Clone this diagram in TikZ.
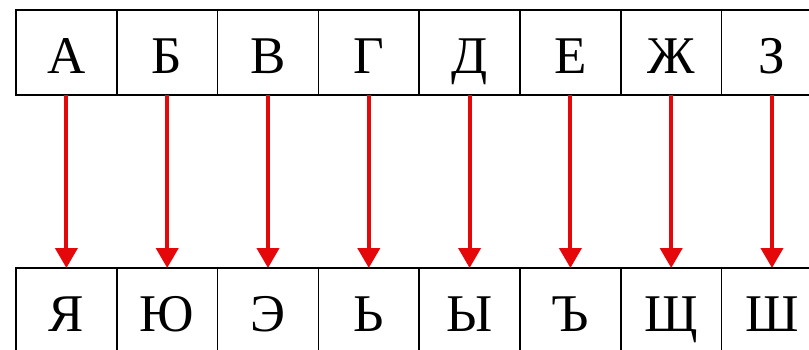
\documentclass[tikz,border=0pt]{standalone}
\usepackage{fontspec}
\setmainfont{Liberation Serif}
\usetikzlibrary{arrows.meta,positioning}
\definecolor{arrowred}{RGB}{228,8,10}

\begin{document}
\begin{tikzpicture}
[
x=0.5pt, y=-0.5pt,
letter/.style={rectangle, draw=black, line width=0.8pt, minimum width=50.4pt, minimum height=42.5pt, inner sep=0pt, outer sep=0pt, text height=20.5pt, text depth=0pt, font=\fontsize{26.5}{30}\selectfont, node distance=0pt},
swap/.style={arrowred, draw, line width=2pt, -{Triangle[width=11pt,length=10pt]}}
]
\clip (0,0) rectangle (809,349);
%Nodes
\node[letter]   (a1)    at (66.4,52.5)          {А};
\node[letter]   (a2)    [right=of a1]           {Б};
\node[letter]   (a3)    [right=of a2]           {В};
\node[letter]   (a4)    [right=of a3]           {Г};
\node[letter]   (a5)    [right=of a4]           {Д};
\node[letter]   (a6)    [right=of a5]           {Е};
\node[letter]   (a7)    [right=of a6]           {Ж};
\node[letter]   (a8)    [right=of a7]           {З};

\node[letter]   (b1)    [below=86.5pt of a1]    {Я};
\node[letter]   (b2)    [right=of b1]           {Ю};
\node[letter]   (b3)    [right=of b2]           {Э};
\node[letter]   (b4)    [right=of b3]           {Ь};
\node[letter]   (b5)    [right=of b4]           {Ы};
\node[letter]   (b6)    [right=of b5]           {Ъ};
\node[letter]   (b7)    [right=of b6]           {Щ};
\node[letter]   (b8)    [right=of b7]           {Ш};

%Lines
\path[swap]
(a1) edge (b1)
(a2) edge (b2)
(a3) edge (b3)
(a4) edge (b4)
(a5) edge (b5)
(a6) edge (b6)
(a7) edge (b7)
(a8) edge (b8);
\end{tikzpicture}
\end{document}
